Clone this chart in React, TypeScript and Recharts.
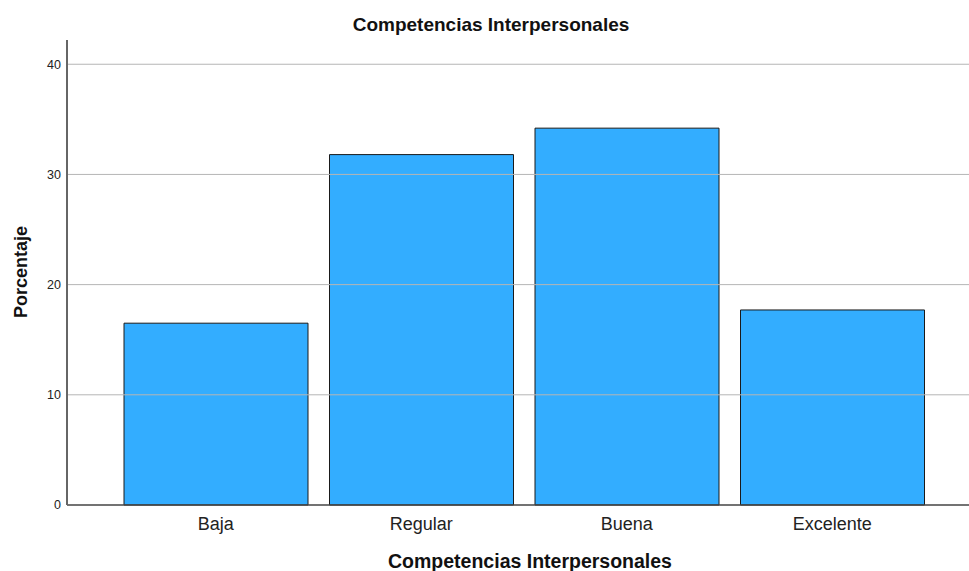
import React from 'react';
import { BarChart, Bar, XAxis, YAxis, ReferenceLine } from 'recharts';

const categories = ['Baja', 'Regular', 'Buena', 'Excelente'];
const percentages = [16.5, 31.8, 34.2, 17.7];
const yTicks = [0, 10, 20, 30, 40];
const gridTicks = [10, 20, 30, 40];

const data = categories.map((c, i) => ({ name: c, value: percentages[i] }));

const FONT = '"Liberation Sans", Arial, sans-serif';

export default function App() {
  return (
    <div style={{ position: 'absolute', left: 0, top: 0, width: 969, height: 571, background: '#fff', fontFamily: FONT }}>
      <div style={{ position: 'absolute', left: 0, top: 14, width: 982, textAlign: 'center', fontWeight: 'bold', fontSize: 19, color: '#111', fontFamily: FONT, zIndex: 2 }}>
        Competencias Interpersonales
      </div>
      <BarChart
        width={969}
        height={571}
        data={data}
        margin={{ top: 40, right: 0, bottom: 0, left: 0 }}
      >
        {gridTicks.map((t) => (
          <ReferenceLine key={t} y={t} stroke="#b5b5b5" strokeWidth={1} ifOverflow="extendDomain" />
        ))}
        <XAxis
          dataKey="name"
          height={66}
          tickLine={false}
          axisLine={{ stroke: '#444', strokeWidth: 1.5 }}
          padding={{ left: 46, right: 34 }}
          tick={{ fontSize: 18, fill: '#222', fontFamily: FONT }}
          tickMargin={6}
          interval={0}
          label={(props: any) => {
            const vb = props.viewBox;
            return (
              <text x={530} y={vb.y + 63} textAnchor="middle" fontSize={19.5} fontWeight="bold" fill="#111" fontFamily={FONT}>
                Competencias Interpersonales
              </text>
            );
          }}
        />
        <YAxis
          width={67}
          domain={[0, 42.2]}
          ticks={yTicks}
          tickLine={false}
          axisLine={{ stroke: '#666', strokeWidth: 2 }}
          tick={{ fontSize: 12.5, fill: '#222', fontFamily: FONT }}
          tickMargin={0}
          label={() => {
            const cy = 272;
            return (
              <text x={27} y={cy} transform={`rotate(-90, 27, ${cy})`} textAnchor="middle" fontSize={18} fontWeight="bold" fill="#111" fontFamily={FONT}>
                Porcentaje
              </text>
            );
          }}
        />
        <Bar dataKey="value" barSize={184} fill="#33adff" stroke="#1a1a1a" strokeWidth={1} isAnimationActive={false} />
      </BarChart>
    </div>
  );
}
